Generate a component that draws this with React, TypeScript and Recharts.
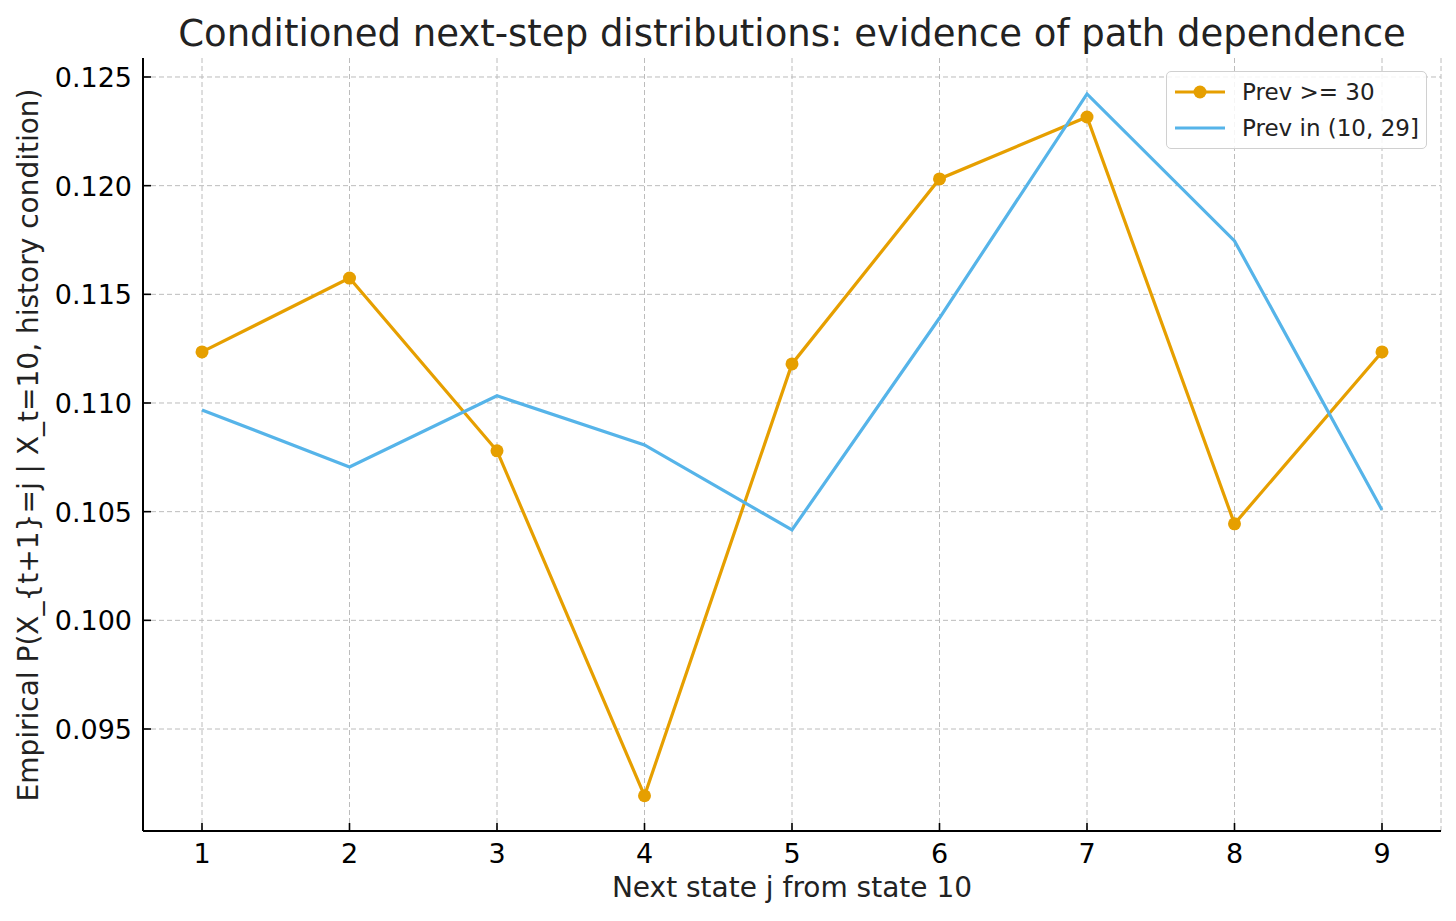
import React from "react";
import { LineChart, Line, XAxis, YAxis, CartesianGrid } from "recharts";

const states = [1, 2, 3, 4, 5, 6, 7, 8, 9];
const prevHigh = [0.11235, 0.11575, 0.1078, 0.09193, 0.1118, 0.12031, 0.12316, 0.10444, 0.11235];
const prevMid = [0.10968, 0.10706, 0.11033, 0.10807, 0.10416, 0.11391, 0.12422, 0.11746, 0.10508];
const yTicks = [0.095, 0.1, 0.105, 0.11, 0.115, 0.12, 0.125];

const ORANGE = "#E69F00";
const BLUE = "#56B4E9";
const FONT = "DejaVu Sans, sans-serif";

const data = states.map((s, i) => ({ j: s, high: prevHigh[i], mid: prevMid[i] }));

function XTick({ x, y, payload }: any) {
  return (
    <g>
      <line x1={x} x2={x} y1={y} y2={y - 8} stroke="#000" strokeWidth={1.6} />
      <text x={x} y={y + 32} textAnchor="middle" fontSize={27} fontFamily={FONT} fill="#000">
        {payload.value}
      </text>
    </g>
  );
}

function YTick({ x, y, payload }: any) {
  return (
    <g>
      <line x1={x} x2={x + 8} y1={y} y2={y} stroke="#000" strokeWidth={1.6} />
      <text x={x - 11} y={y + 10} textAnchor="end" fontSize={27} fontFamily={FONT} fill="#000">
        {payload.value.toFixed(3)}
      </text>
    </g>
  );
}

function LegendBox() {
  return (
    <div style={s.legend}>
      <div style={s.legendRow}>
        <svg width={50} height={20}>
          <line x1={0} x2={50} y1={10} y2={10} stroke={ORANGE} strokeWidth={3.2} />
          <circle cx={25} cy={10} r={6.5} fill={ORANGE} />
        </svg>
        <span style={s.legendText}>Prev &gt;= 30</span>
      </div>
      <div style={s.legendRow}>
        <svg width={50} height={20}>
          <line x1={0} x2={50} y1={10} y2={10} stroke={BLUE} strokeWidth={3.2} />
        </svg>
        <span style={s.legendText}>Prev in (10, 29]</span>
      </div>
    </div>
  );
}

export default function App() {
  return (
    <div style={s.page}>
      <LineChart width={1456} height={921} data={data} margin={{ top: 58, right: 15, bottom: 0, left: 0 }}>
        <CartesianGrid stroke="#bcbcbc" strokeDasharray="5 3" strokeWidth={1} horizontalValues={yTicks} />
        <XAxis
          dataKey="j"
          type="number"
          domain={[0.6, 9.4]}
          ticks={states}
          allowDataOverflow
          tickSize={0}
          tickMargin={0}
          tickLine={false}
          tick={<XTick />}
          axisLine={{ stroke: "#000", strokeWidth: 2 }}
          height={90}
        />
        <YAxis
          type="number"
          domain={[0.090307, 0.125874]}
          ticks={yTicks}
          allowDataOverflow
          tickSize={0}
          tickMargin={0}
          tickLine={false}
          tick={<YTick />}
          axisLine={{ stroke: "#000", strokeWidth: 2 }}
          width={143}
        />
        <Line
          dataKey="high"
          stroke={ORANGE}
          strokeWidth={3.2}
          dot={{ r: 6.5, fill: ORANGE, stroke: ORANGE, strokeWidth: 0 }}
          isAnimationActive={false}
        />
        <Line dataKey="mid" stroke={BLUE} strokeWidth={3.2} dot={false} isAnimationActive={false} />
      </LineChart>
      <div style={s.title}>Conditioned next-step distributions: evidence of path dependence</div>
      <div style={s.yLabel}>Empirical P(X_{"{"}t+1{"}"}=j | X_t=10, history condition)</div>
      <div style={s.xLabel}>Next state j from state 10</div>
      <div style={s.legendPos}>
        <LegendBox />
      </div>
    </div>
  );
}

const s: Record<string, React.CSSProperties> = {
  page: { position: "absolute", left: 0, top: 0, width: 1456, height: 921, background: "#fff", fontFamily: FONT },
  title: { position: "absolute", left: 143, width: 1298, top: 12, textAlign: "center", fontSize: 37, color: "#222", whiteSpace: "nowrap" },
  xLabel: { position: "absolute", left: 143, width: 1298, top: 871, textAlign: "center", fontSize: 28, color: "#222" },
  yLabel: {
    position: "absolute", left: 28, top: 445, fontSize: 28, color: "#222", whiteSpace: "nowrap",
    transform: "translate(-50%, -50%) rotate(-90deg)",
  },
  legendPos: { position: "absolute", left: 1166, top: 71 },
  legend: {
    width: 261, boxSizing: "border-box", background: "rgba(255,255,255,0.85)", border: "1.5px solid #d0d0d0", borderRadius: 5,
    padding: "2px 6px 2px 8px", display: "flex", flexDirection: "column",
  },
  legendRow: { display: "flex", alignItems: "center", gap: 17, height: 36 },
  legendText: { fontSize: 23, color: "#222", fontFamily: FONT },
};
